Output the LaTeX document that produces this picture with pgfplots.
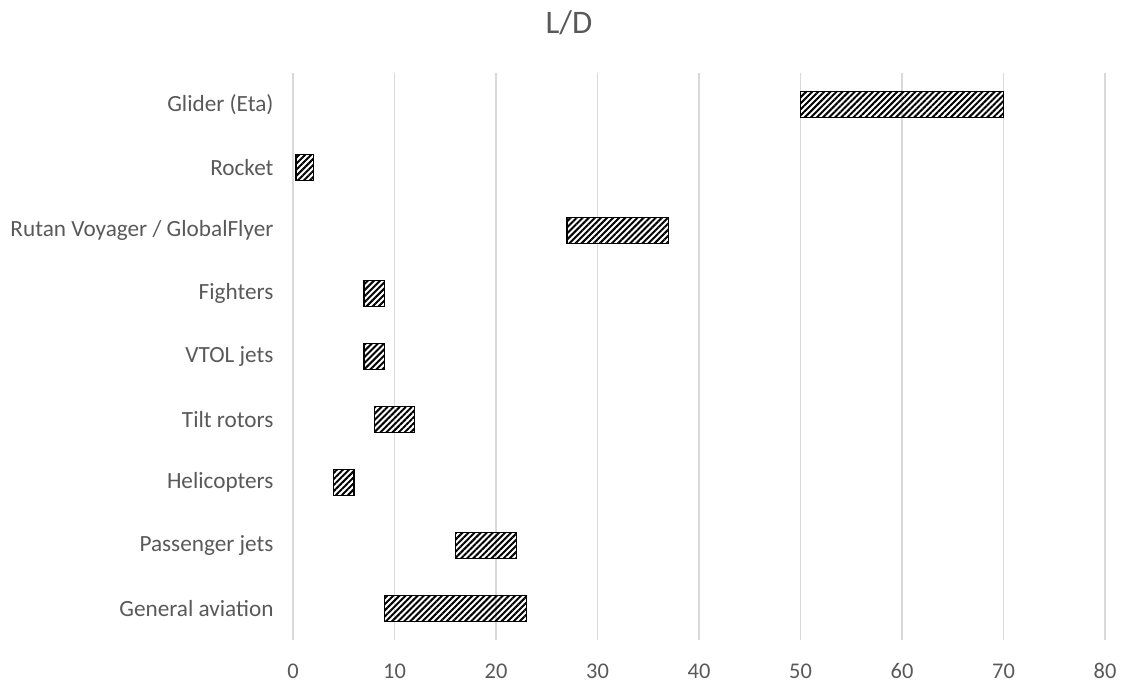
\documentclass[border=0pt]{standalone}
\usepackage{pgfplots}
\pgfplotsset{compat=1.18}
\usepackage{fontspec}
\setmainfont{Carlito}
\usetikzlibrary{patterns.meta}
\definecolor{txt}{HTML}{595959}
\definecolor{gridc}{HTML}{D9D9D9}
\pgfplotstableread{
idx start len
0 9 14
1 16 6
2 4 2
3 8 4
4 7 2
5 7 2
6 27 10
7 0.3 1.7
8 50 20
}\ldtable
\begin{document}
\begin{tikzpicture}[x=1bp,y=1bp]
\path[use as bounding box] (-293bp,-45bp) rectangle (833bp,640bp);
\begin{axis}[
  scale only axis,
  width=812bp, height=567bp,
  xbar stacked,
  bar width=26bp,
  xmin=0, xmax=80,
  ymin=-0.5, ymax=8.5,
  xtick={0,10,...,80},
  ytick={0,...,8},
  yticklabels={General aviation,Passenger jets,Helicopters,Tilt rotors,VTOL jets,Fighters,Rutan Voyager / GlobalFlyer,Rocket,Glider (Eta)},
  xmajorgrids, ymajorgrids=false,
  major grid style={draw=gridc, line width=1.3bp},
  axis line style={draw=none},
  major tick length=0pt,
  tick label style={font=\fontsize{22.5}{26}\selectfont, text=txt},
  yticklabel style={font=\fontsize{23.3}{26}\selectfont, xshift=-16bp},
  xticklabel style={yshift=-20bp},
  /pgf/number format/assume math mode=true,
  clip=false,
]
\addplot[draw=none, fill=none] table[x=start, y=idx] {\ldtable};
\addplot[draw=black, line width=1.3bp, fill=white, pattern={Lines[angle=45, distance=4.3bp, line width=2bp]}, pattern color=black] table[x=len, y=idx] {\ldtable};
\node[font=\fontsize{33}{38}\selectfont, text=txt, anchor=base] at (axis description cs:0.3399,1.0705) {L/D};
\end{axis}
\end{tikzpicture}
\end{document}
